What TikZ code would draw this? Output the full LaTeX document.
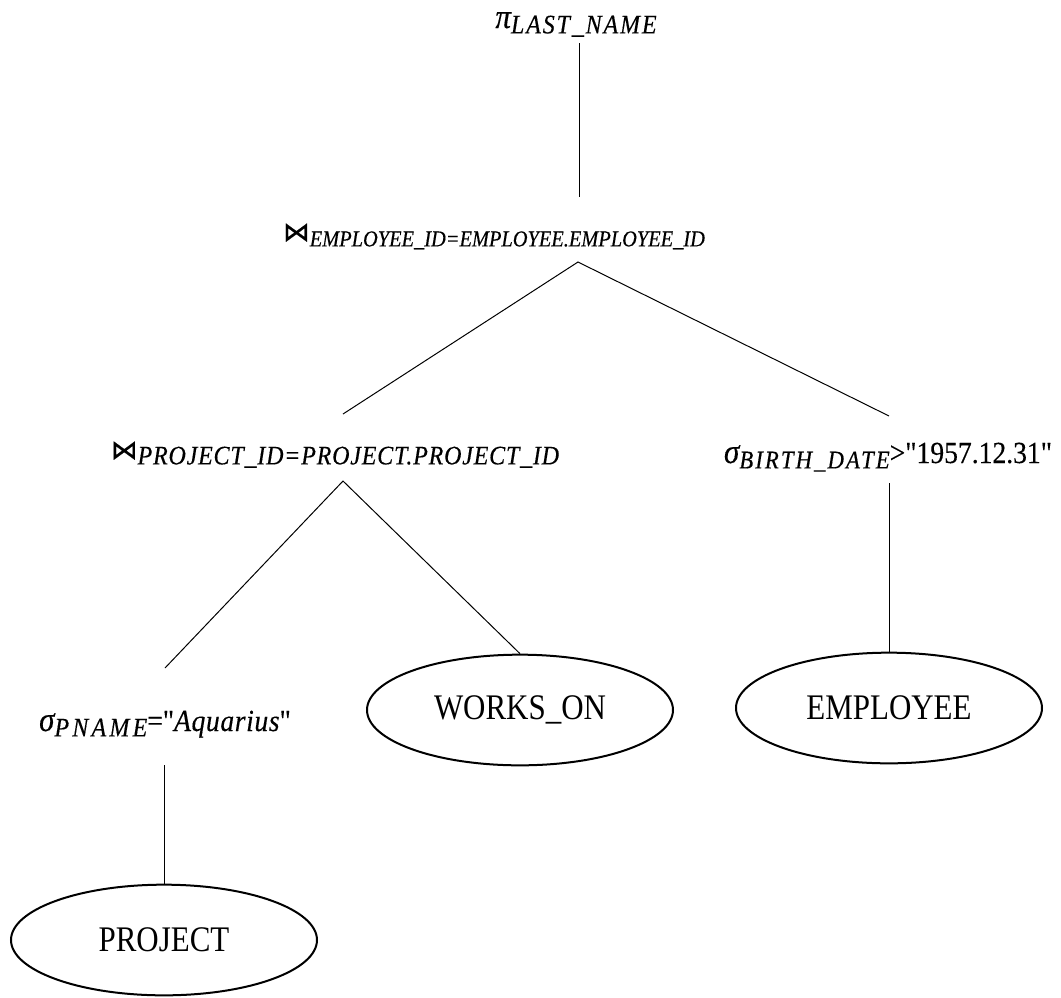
\RequirePackage{fix-cm}
\documentclass[tikz,border=0pt]{standalone}
\usepackage{fontspec}
\usetikzlibrary{shapes.geometric}
\newfontfamily\ellfont[FakeStretch=0.86]{Liberation Serif}
\newfontfamily\labfont[FakeStretch=0.9,FakeBold=0.3]{Liberation Serif}
\newfontfamily\symfont[FakeBold=0.5]{DejaVu Sans}
% subscript: size, letter spacing, text
\newcommand{\sbs}[3]{\raisebox{-4pt}{\fontsize{#1}{#1}\selectfont\itshape\addfontfeature{LetterSpace=#2}#3}}
\newcommand{\jn}[1]{{\symfont\fontsize{#1}{#1}\selectfont ⋈}}
\newcommand{\gk}[1]{{\fontsize{26}{28}\selectfont #1}}
\begin{document}
\begin{tikzpicture}[x=0.75pt,y=-0.75pt,
  conn/.style={line width=0.75pt},
  rel/.style={draw, ellipse, line width=1.5pt, minimum width=229.5pt, minimum height=83pt, inner sep=0pt, font=\ellfont\fontsize{27}{30}\selectfont},
  lab/.style={anchor=base, inner sep=0pt, font=\labfont\fontsize{23}{26}\selectfont\itshape}]
\useasboundingbox (0,0) rectangle (1061,997);

% operator labels
\node[lab] (pi) at (576,28) {\gk{π}\sbs{20}{7}{LAST\_NAME}};
\node[lab] (j1) at (494,241) {\jn{20}\sbs{17}{0}{EMPLOYEE\_ID=EMPLOYEE.EMPLOYEE\_ID}};
\node[lab] (j2) at (335,459) {\jn{20}\sbs{20}{3}{PROJECT\_ID=PROJECT.PROJECT\_ID}};
\node[lab] (s1) at (888,463) {\gk{σ}\sbs{19}{8}{BIRTH\_DATE}{\upshape>"1957.12.31"}};
\node[lab] (s2) at (165,731) {\gk{σ}\sbs{20}{12}{PNAME}{\upshape="}{\addfontfeature{LetterSpace=2}Aquarius}{\upshape"}};

% relations
\node[rel] (works) at (520,710) {WORKS\_ON};
\node[rel] (emp) at (889,708) {EMPLOYEE};
\node[rel] (proj) at (164,940) {PROJECT};

% connector end points
\coordinate (piA) at (579,43);
\coordinate (piB) at (579,197);
\coordinate (j1A) at (578,262);
\coordinate (j1L) at (343,414);
\coordinate (j1R) at (889,416);
\coordinate (j2A) at (343,481);
\coordinate (j2L) at (165,668);
\coordinate (s1A) at (889,483);
\coordinate (s2A) at (164,765);

% connectors
\draw[conn] (piA) -- (piB);
\draw[conn] (j1L) -- (j1A) -- (j1R);
\draw[conn] (j2L) -- (j2A) -- (works.north);
\draw[conn] (s1A) -- (emp.north);
\draw[conn] (s2A) -- (proj.north);
\end{tikzpicture}
\end{document}
